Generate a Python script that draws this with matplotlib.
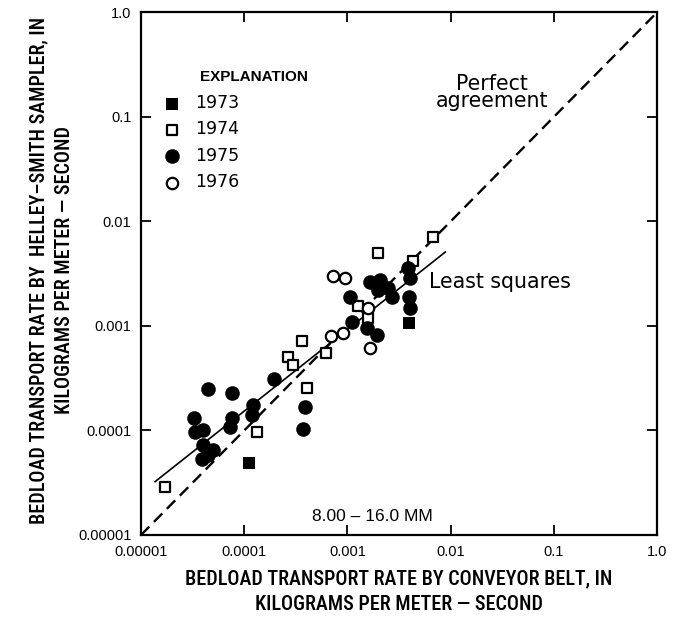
import matplotlib
matplotlib.use('Agg')
import matplotlib.pyplot as plt

# Bedload transport, 8.00-16.0 mm: Helley-Smith sampler vs conveyor belt (kg/m-s)
x_1973 = [1.12e-4, 3.98e-3]
y_1973 = [4.85e-5, 1.06e-3]

x_1974 = [1.71e-5, 1.32e-4, 2.67e-4, 2.99e-4, 3.63e-4, 4.08e-4, 6.21e-4,
          1.28e-3, 1.58e-3, 1.99e-3, 4.28e-3, 6.72e-3]
y_1974 = [2.86e-5, 9.7e-5, 5.08e-4, 4.24e-4, 7.18e-4, 2.54e-4, 5.57e-4,
          1.55e-3, 1.19e-3, 5.02e-3, 4.19e-3, 7.16e-3]

x_1975 = [4.41e-5, 7.57e-5, 3.27e-5, 3.33e-5, 4.02e-5, 4.02e-5, 5.02e-5, 4.46e-5,
          3.9e-5, 7.57e-5, 7.28e-5, 1.22e-4, 1.18e-4, 1.95e-4, 3.84e-4, 3.74e-4,
          1.10e-3, 1.06e-3, 1.54e-3, 1.92e-3, 1.66e-3, 2.07e-3, 2.49e-3, 2.69e-3,
          1.98e-3, 3.89e-3, 4.05e-3, 3.98e-3, 4.05e-3]
y_1975 = [2.49e-4, 2.27e-4, 1.32e-4, 9.77e-5, 1.01e-4, 7.26e-5, 6.5e-5, 5.83e-5,
          5.33e-5, 1.31e-4, 1.09e-4, 1.75e-4, 1.41e-4, 3.11e-4, 1.66e-4, 1.03e-4,
          1.10e-3, 1.91e-3, 9.5e-4, 8.2e-4, 2.65e-3, 2.75e-3, 2.30e-3, 1.91e-3,
          2.21e-3, 3.56e-3, 2.86e-3, 1.91e-3, 1.48e-3]

x_1976 = [6.89e-4, 9.12e-4, 7.3e-4, 9.48e-4, 1.6e-3, 1.66e-3]
y_1976 = [8.0e-4, 8.5e-4, 3.01e-3, 2.86e-3, 1.48e-3, 6.12e-4]

# least squares fit ends and the 1:1 line
fit_x = [1.37e-5, 8.89e-3]
fit_y = [3.24e-5, 5.1e-3]
equal_x = [1e-5, 1.0]
equal_y = [1e-5, 1.0]

tick_values = [1e-5, 1e-4, 1e-3, 1e-2, 1e-1, 1.0]
tick_labels = ['0.00001', '0.0001', '0.001', '0.01', '0.1', '1.0']

label_font = ['Roboto Condensed', 'Archivo Narrow', 'Asap Condensed', 'DejaVu Sans']
note_font = ['DejaVu Sans']
plt.rcParams['font.family'] = ['Liberation Sans', 'DejaVu Sans']

fig = plt.figure(figsize=(6.78, 6.23), dpi=100)
ax = fig.add_axes([0.208, 0.1413, 0.761, 0.8387])

ax.plot(equal_x, equal_y, color='black', lw=1.7, linestyle=(0, (5, 2.8)), zorder=2)
ax.plot(fit_x, fit_y, color='black', lw=1.2, zorder=2)

ax.scatter(x_1974, y_1974, marker='s', s=7.2 ** 2, facecolor='white',
           edgecolor='black', linewidth=1.6, zorder=3, label='1974')
ax.scatter(x_1976, y_1976, marker='o', s=8.2 ** 2, facecolor='white',
           edgecolor='black', linewidth=1.6, zorder=3, label='1976')
ax.scatter(x_1975, y_1975, marker='o', s=10.5 ** 2, color='black',
           linewidth=0, zorder=4, label='1975')
ax.scatter(x_1973, y_1973, marker='s', s=8 ** 2, color='black',
           linewidth=0, zorder=4, label='1973')

ax.set_xscale('log')
ax.set_yscale('log')
ax.set_xlim(1e-5, 1.0)
ax.set_ylim(1e-5, 1.0)
ax.set_xticks(tick_values)
ax.set_xticklabels(tick_labels)
ax.set_yticks(tick_values)
ax.set_yticklabels(tick_labels)
ax.minorticks_off()
ax.tick_params(which='major', direction='in', length=7, width=1.3,
               top=True, right=True, labelsize=10.5, pad=7)
for sp in ax.spines.values():
    sp.set_linewidth(1.6)

# legend
handles, labels = ax.get_legend_handles_labels()
order = [labels.index(k) for k in ['1973', '1974', '1975', '1976']]
leg = ax.legend([handles[i] for i in order], [labels[i] for i in order],
                loc='upper left', bbox_to_anchor=(0.03, 0.857), frameon=False,
                prop={'family': note_font, 'size': 12.5}, handletextpad=0.8,
                labelspacing=0.48, borderaxespad=0, handlelength=1.0)
ax.text(0.115, 0.863, 'EXPLANATION', transform=ax.transAxes, fontsize=11,
        fontweight='bold', ha='left', va='bottom')

ax.text(0.68, 0.847, 'Perfect\nagreement', transform=ax.transAxes, fontsize=14.8,
        family=note_font, ha='center', va='center', linespacing=0.85)
ax.text(0.558, 0.484, 'Least squares', transform=ax.transAxes, fontsize=14.8,
        family=note_font, ha='left', va='center')
ax.text(0.448, 0.035, '8.00 – 16.0 MM', transform=ax.transAxes, fontsize=12.5,
        ha='center', va='center')

ax.set_xlabel('BEDLOAD TRANSPORT RATE BY CONVEYOR BELT, IN\nKILOGRAMS PER METER — SECOND',
              family=label_font, fontsize=14.5, fontweight='medium', linespacing=1.42,
              labelpad=8)
ax.set_ylabel('BEDLOAD TRANSPORT RATE BY  HELLEY–SMITH SAMPLER, IN\nKILOGRAMS PER METER — SECOND',
              family=label_font, fontsize=14.5, fontweight='medium', linespacing=1.45)
ax.yaxis.set_label_coords(-0.13, 0.507)

fig.savefig('out.png', dpi=100)
